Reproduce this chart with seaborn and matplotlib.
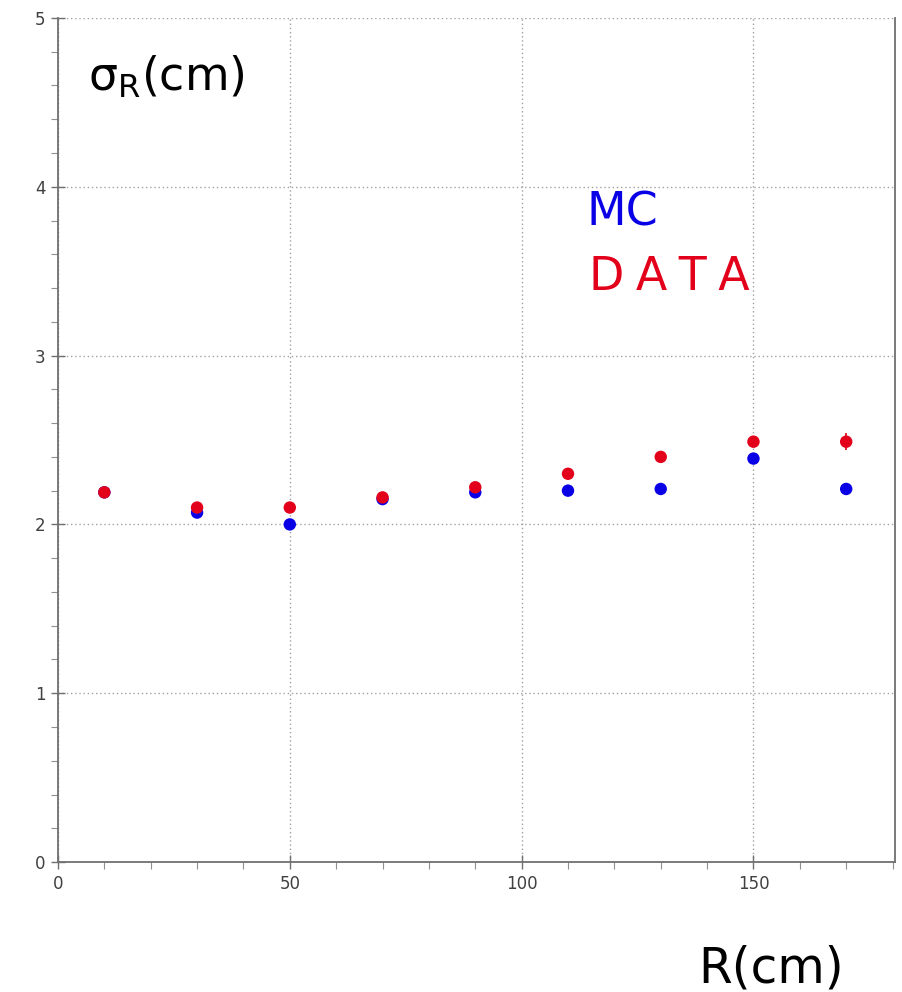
import matplotlib
matplotlib.use("Agg")
import matplotlib.pyplot as plt
from matplotlib.ticker import MultipleLocator
import seaborn as sns
import pandas as pd

# Radial bins (cm) and measured resolution sigma_R (cm)
radius = [10, 30, 50, 70, 90, 110, 130, 150, 170]
sigma_mc = [2.19, 2.07, 2.00, 2.15, 2.19, 2.20, 2.21, 2.39, 2.21]
sigma_data = [2.19, 2.10, 2.10, 2.16, 2.22, 2.30, 2.40, 2.49, 2.49]
sigma_data_err = [0.02, 0.02, 0.02, 0.02, 0.02, 0.02, 0.02, 0.03, 0.05]

sns.set_theme(style="white")
plt.rcParams["font.family"] = ["DejaVu Sans"]

df = pd.DataFrame({
    "R": radius * 2,
    "sigma": sigma_mc + sigma_data,
    "sample": ["MC"] * len(radius) + ["DATA"] * len(radius),
})

fig = plt.figure(figsize=(9.03, 9.92), dpi=100)
ax = fig.add_axes([0.0642, 0.131, 0.9268, 0.8509])

ax.errorbar(radius, sigma_data, yerr=sigma_data_err, fmt="none",
            ecolor="#e00010", elinewidth=1.2, zorder=2)
sns.scatterplot(data=df, x="R", y="sigma", hue="sample",
                palette={"MC": "#0a00e6", "DATA": "#e2001a"},
                s=80, edgecolor="none", legend=False, ax=ax, zorder=3)

ax.set_xlim(0, 180.5)
ax.set_ylim(0, 5)
ax.xaxis.set_major_locator(MultipleLocator(50))
ax.xaxis.set_minor_locator(MultipleLocator(10))
ax.yaxis.set_major_locator(MultipleLocator(1))
ax.yaxis.set_minor_locator(MultipleLocator(0.2))
ax.grid(True, which="major", color="#a0a0a0", linestyle=(0, (1, 2)), linewidth=1.0)

for side in ("left", "bottom", "right"):
    ax.spines[side].set_color("#707070")
    ax.spines[side].set_linewidth(1.3)
ax.spines["top"].set_visible(False)

ax.tick_params(axis="both", which="major", direction="inout", length=10,
               width=1.0, color="#707070", labelsize=12, labelcolor="#404040",
               left=True, bottom=True, pad=4)
ax.tick_params(axis="both", which="minor", direction="out", length=5,
               width=0.8, color="#909090", left=True, bottom=True)
ax.set_xlabel("")
ax.set_ylabel("")

ax.text(0.036, 0.93, r"σ$_\mathregular{R}$(cm)", transform=ax.transAxes,
        fontsize=33, color="black", va="center", ha="left")
fig.text(0.650, 0.785, "MC", fontsize=33, color="#0a00e6",
         va="center", ha="left")
fig.text(0.652, 0.72, "D\u2005A\u2005T\u2005A", fontsize=33, color="#e2001a",
         va="center", ha="left")
fig.text(0.773, 0.024, "R(cm)", fontsize=35, color="black",
         va="center", ha="left")

fig.savefig("out.png", dpi=100)
